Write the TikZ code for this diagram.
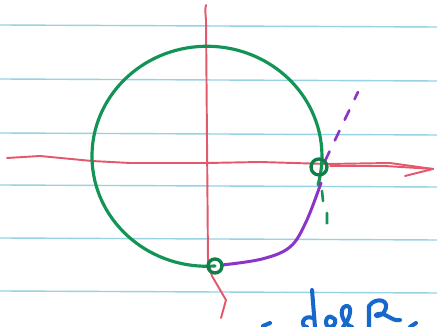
\documentclass[tikz,border=0pt]{standalone}
\usepackage{tikz}
\usetikzlibrary{positioning}
\definecolor{penred}{RGB}{228,88,108}
\definecolor{pengreen}{RGB}{18,148,86}
\definecolor{penpurple}{RGB}{140,52,200}
\definecolor{penblue}{RGB}{22,104,204}
\definecolor{ruleblue}{RGB}{150,210,226}
\tikzstyle{rule} = [draw=ruleblue, line width=0.8pt]
\tikzstyle{axis} = [draw=penred, line width=1.1pt, line cap=round, line join=round]
\tikzstyle{circ} = [draw=pengreen, line width=1.8pt, line cap=round]
\tikzstyle{arcpart} = [draw=penpurple, line width=1.7pt, line cap=round]
\tikzstyle{guide} = [line width=1.5pt, dash pattern=on 6pt off 7pt, line cap=round]
\tikzstyle{ptloop} = [draw=pengreen!85!black, line width=1.9pt]
\tikzstyle{ink} = [draw=penblue, line width=2.3pt, line cap=round, line join=round]

\begin{document}
\begin{tikzpicture}[x=0.02cm, y=-0.02cm]

	% Paper
	\fill[white] (0,0) rectangle (437,327);
	\useasboundingbox (0,0) rectangle (437,327);
	\foreach \y in {25,79,133,185,238,291}
		\draw[rule] (0,\y) -- (437,\y+2);

	% Key points
	\coordinate (south) at (215,266);
	\coordinate (east) at (319,167);
	\coordinate (ytop) at (206,5);
	\coordinate (xleft) at (7,158);
	\coordinate (xtip) at (433,169);

	% Axes
	\draw[axis] (ytop) .. controls (205,8) .. (206,20) -- (207,140) -- (208,262)
		-- (212,276) -- (226,300) -- (221,318);
	\draw[axis] (xleft) -- (40,156) -- (92,161) -- (130,163) -- (207,163)
		-- (260,162) -- (327,164) -- (390,163) -- (xtip);
	\draw[axis] (xtip) -- (385,166) -- (330,166);
	\draw[axis] (xtip) -- (405,176);

	% Circle
	\draw[circ] (south) arc[start angle=86, end angle=375, x radius=115, y radius=110];

	% Arc and its continuation
	\draw[arcpart] plot[smooth, tension=0.6] coordinates {(222,265)
		(262,259) (290,247) (306,222) (321,183)};
	\draw[guide, penpurple] (east) ++(6,-6) -- (358,92);
	\draw[guide, pengreen] (322,191) -- (323,201);
	\draw[guide, pengreen] (327,213) -- (327,223) -- (324,225);

	% Point marks
	\draw[ptloop] (south) circle[radius=7];
	\draw[ptloop] (east) circle[radius=8];

	% Handwriting
	\draw[ink] (263,326) -- (270,323);
	\draw[ink] (312,290) -- (315,327);
	\draw[ink] (313,318) .. controls (302,314) and (300,327) .. (307,327);
	\draw[ink] (333,318) .. controls (326,312) and (323,327) .. (330,327)
		.. controls (336,327) and (337,318) .. (333,318);
	\draw[ink] (343,327) .. controls (352,316) and (352,305) .. (346,306)
		.. controls (338,308) and (342,324) .. (352,327);
	\draw[ink] (369,327) -- (369,306) .. controls (376,296) and (392,300) .. (384,312)
		.. controls (380,318) and (372,316) .. (378,314)
		.. controls (386,312) and (392,322) .. (400,320);
	\draw[ink] (410,327) -- (416,323);

\end{tikzpicture}
\end{document}
